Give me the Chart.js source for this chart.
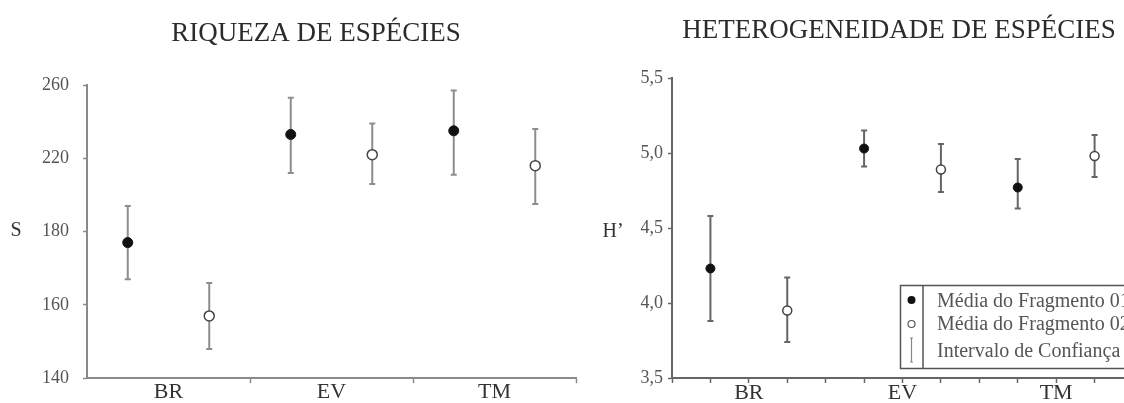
<!DOCTYPE html>
<html><head><meta charset="utf-8">
<script src="https://cdn.jsdelivr.net/npm/chart.js@4/dist/chart.umd.min.js"></script>
<style>
html,body{margin:0;padding:0;background:#fff;overflow:hidden;width:1124px;height:403px;}
#wrap{position:relative;width:1124px;height:403px;overflow:hidden;background:#fff;}
canvas{position:absolute;top:0;}
#c1{left:0;width:632px;height:403px;}
#c2{left:580px;width:638px;height:403px;}
</style></head><body>
<div id="wrap"><canvas id="c1" width="632" height="403"></canvas><canvas id="c2" width="638" height="403"></canvas></div>
<script>
// ---------- DATA ----------
const categories = ['BR', 'EV', 'TM'];
const seriesNames = ['Média do Fragmento 01', 'Média do Fragmento 02'];
const ciLabel = 'Intervalo de Confiança';
const titleLeft = 'RIQUEZA DE ESPÉCIES';
const titleRight = 'HETEROGENEIDADE DE ESPÉCIES';

// Riqueza de espécies (S)
const sTickLabels = [140, 160, 180, 220, 260];
const sMeanF01 = [177, 233, 235];
const sLowF01  = [167, 212, 211];
const sHighF01 = [194, 253, 257];
const sMeanF02 = [157, 222, 216];
const sLowF02  = [148, 206, 195];
const sHighF02 = [166, 239, 236];

// Heterogeneidade de espécies (H')
const hTickLabels = [3.5, 4.0, 4.5, 5.0, 5.5];
const hMeanF01 = [4.23, 5.03, 4.77];
const hLowF01  = [3.88, 4.91, 4.63];
const hHighF01 = [4.58, 5.15, 4.96];
const hMeanF02 = [3.95, 4.89, 4.98];
const hLowF02  = [3.74, 4.74, 4.84];
const hHighF02 = [4.17, 5.06, 5.12];

// ---------- HELPERS ----------
const FONT = "'Liberation Serif', 'DejaVu Serif', serif";
Chart.defaults.font.family = FONT;

// The S axis has equally spaced ticks labelled 140,160,180,220,260: map values piecewise
function sToAxis(v) {
  for (let i = 0; i < sTickLabels.length - 1; i++) {
    const a = sTickLabels[i], b = sTickLabels[i + 1];
    if (v <= b || i === sTickLabels.length - 2) return i + (v - a) / (b - a);
  }
}
const ident = v => v;

function makeErrorBars(map, color, width, cap) {
  return {
    id: 'errorBars',
    beforeDatasetsDraw(chart) {
      const ctx = chart.ctx, ys = chart.scales.y;
      chart.data.datasets.forEach((ds, di) => {
        const meta = chart.getDatasetMeta(di);
        meta.data.forEach((pt, i) => {
          const x = pt.x;
          const yT = ys.getPixelForValue(map(ds.highs[i]));
          const yB = ys.getPixelForValue(map(ds.lows[i]));
          ctx.save();
          ctx.strokeStyle = color; ctx.lineWidth = width;
          ctx.beginPath();
          ctx.moveTo(x, yT); ctx.lineTo(x, yB);
          ctx.moveTo(x - cap, yT); ctx.lineTo(x + cap, yT);
          ctx.moveTo(x - cap, yB); ctx.lineTo(x + cap, yB);
          ctx.stroke();
          ctx.restore();
        });
      });
    }
  };
}

function makeTexts(title, tx, ty, axisText, ax, ay) {
  return {
    id: 'chartTexts',
    afterDraw(chart) {
      const ctx = chart.ctx;
      ctx.save();
      ctx.fillStyle = '#2b2b2b';
      ctx.textAlign = 'center';
      ctx.textBaseline = 'alphabetic';
      ctx.font = "27px " + FONT;
      ctx.fillText(title, tx, ty);
      ctx.font = "20px " + FONT;
      ctx.fillStyle = '#333';
      ctx.textBaseline = 'middle';
      ctx.fillText(axisText, ax, ay);
      ctx.restore();
    }
  };
}

function buildDatasets(mapFn, m1, l1, h1, m2, l2, h2, r) {
  return [
    {
      label: seriesNames[0],
      data: categories.map((c, i) => ({ x: i + 0.25, y: mapFn(m1[i]) })),
      lows: l1, highs: h1,
      pointRadius: r, pointBackgroundColor: '#111', pointBorderColor: '#111', pointBorderWidth: 1,
      showLine: false
    },
    {
      label: seriesNames[1],
      data: categories.map((c, i) => ({ x: i + 0.75, y: mapFn(m2[i]) })),
      lows: l2, highs: h2,
      pointRadius: r, pointBackgroundColor: '#fff', pointBorderColor: '#444', pointBorderWidth: 1.5,
      showLine: false
    }
  ];
}

function catLabel(v) {
  const f = Math.round((v % 1) * 100) / 100;
  if (f === 0.5) return categories[Math.floor(v)];
  return '';
}

// ---------- LEFT CHART ----------
new Chart(document.getElementById('c1'), {
  type: 'scatter',
  data: { datasets: buildDatasets(sToAxis, sMeanF01, sLowF01, sHighF01, sMeanF02, sLowF02, sHighF02, 5) },
  options: {
    responsive: false, animation: false,
    layout: { padding: { left: 0, right: 56, top: 85, bottom: 0 } },
    plugins: {
      legend: { display: false }, tooltip: { enabled: false }, title: { display: false }
    },
    scales: {
      x: {
        type: 'linear', min: 0, max: 3,
        afterFit: s => { s.height = 24; },
        ticks: { stepSize: 0.5, autoSkip: false, maxRotation: 0, padding: -2, color: '#333',
                 font: { size: 22, lineHeight: 1 }, callback: v => catLabel(v) },
        grid: { drawOnChartArea: false, drawTicks: true, tickLength: 5, tickWidth: 1.5,
                tickColor: c => (c.tick && Math.abs(c.tick.value % 1) < 1e-6 && c.tick.value > 0) ? '#8a8a8a' : 'rgba(0,0,0,0)' },
        border: { display: true, color: '#8a8a8a', width: 2 }
      },
      y: {
        type: 'linear', min: 0, max: sTickLabels.length - 1,
        afterFit: s => { s.width = 87; },
        ticks: { stepSize: 1, padding: 14, color: '#555', font: { size: 18 },
                 callback: v => String(sTickLabels[v]) },
        grid: { drawOnChartArea: false, drawTicks: true, tickLength: 4, color: '#8a8a8a', tickWidth: 1.5 },
        border: { display: true, color: '#8a8a8a', width: 2 }
      }
    }
  },
  plugins: [makeErrorBars(sToAxis, '#8d8d8d', 2, 3), makeTexts(titleLeft, 316, 41, 'S', 16, 231)]
});

// ---------- RIGHT CHART ----------
const legendPlugin = {
  id: 'boxLegend',
  afterDraw(chart) {
    const ctx = chart.ctx;
    const left = 320, top = 285, h = 83, div = 343;
    ctx.save();
    ctx.strokeStyle = '#555'; ctx.lineWidth = 1.5;
    ctx.strokeRect(left + 0.5, top + 0.5, 320, h);
    ctx.beginPath(); ctx.moveTo(div, top); ctx.lineTo(div, top + h); ctx.stroke();
    // symbols
    const sx = 331.5;
    ctx.fillStyle = '#111';
    ctx.beginPath(); ctx.arc(sx, 300, 4, 0, Math.PI * 2); ctx.fill();
    ctx.fillStyle = '#fff'; ctx.strokeStyle = '#555'; ctx.lineWidth = 1.2;
    ctx.beginPath(); ctx.arc(sx, 324, 3.5, 0, Math.PI * 2); ctx.fill(); ctx.stroke();
    ctx.strokeStyle = '#888'; ctx.lineWidth = 1.2;
    ctx.beginPath(); ctx.moveTo(sx, 338); ctx.lineTo(sx, 362);
    ctx.moveTo(sx - 1.5, 338); ctx.lineTo(sx + 1.5, 338);
    ctx.moveTo(sx - 1.5, 362); ctx.lineTo(sx + 1.5, 362); ctx.stroke();
    // texts
    ctx.fillStyle = '#555';
    ctx.font = "20px " + FONT;
    ctx.textAlign = 'left'; ctx.textBaseline = 'alphabetic';
    const texts = [chart.data.datasets[0].label, chart.data.datasets[1].label, ciLabel];
    const ys = [306.5, 330, 356.5];
    texts.forEach((t, i) => ctx.fillText(t, 357, ys[i]));
    ctx.restore();
  }
};

new Chart(document.getElementById('c2'), {
  type: 'scatter',
  data: { datasets: buildDatasets(ident, hMeanF01, hLowF01, hHighF01, hMeanF02, hLowF02, hHighF02, 4.5) },
  options: {
    responsive: false, animation: false,
    layout: { padding: { left: 0, right: 85, top: 78, bottom: 0 } },
    plugins: {
      legend: { display: false }, tooltip: { enabled: false }, title: { display: false }
    },
    scales: {
      x: {
        type: 'linear', min: 0, max: 3,
        afterFit: s => { s.height = 25; },
        ticks: { stepSize: 0.25, autoSkip: false, maxRotation: 0, padding: -1, color: '#333',
                 font: { size: 22, lineHeight: 1 }, callback: v => catLabel(v) },
        grid: { drawOnChartArea: false, drawTicks: true, tickLength: 5, tickWidth: 1.5, color: '#666' },
        border: { display: true, color: '#666', width: 2 }
      },
      y: {
        type: 'linear', min: hTickLabels[0], max: hTickLabels[hTickLabels.length - 1],
        afterFit: s => { s.width = 92; },
        ticks: { stepSize: 0.5, padding: 5, color: '#555', font: { size: 18 },
                 callback: v => v.toFixed(1).replace('.', ',') },
        grid: { drawOnChartArea: false, drawTicks: true, tickLength: 4, color: '#666', tickWidth: 1.5 },
        border: { display: true, color: '#666', width: 2 }
      }
    }
  },
  plugins: [makeErrorBars(ident, '#666', 2, 3), makeTexts(titleRight, 319, 38, 'H’', 33, 232), legendPlugin]
});
</script>
</body></html>
